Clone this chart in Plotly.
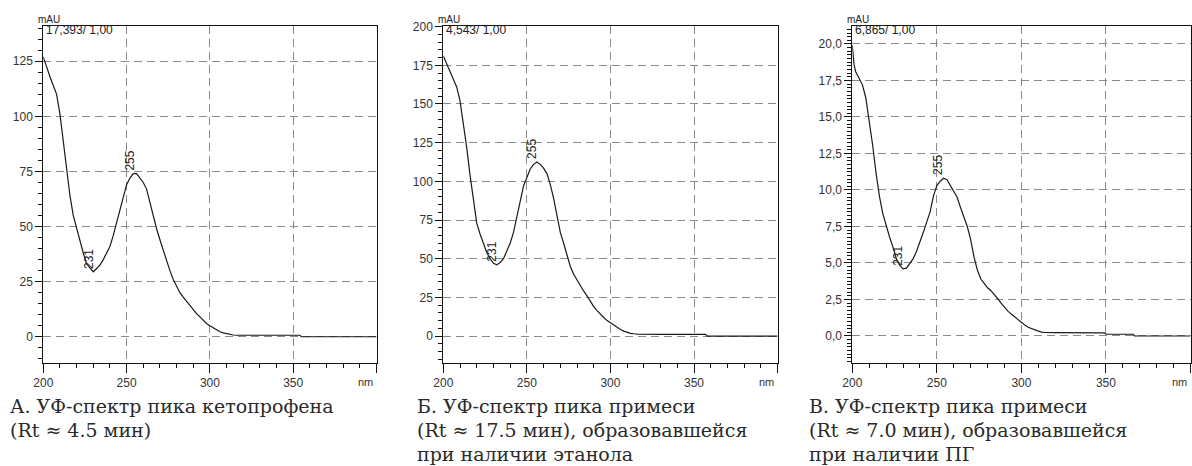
import plotly.graph_objects as go

W, H = 1192, 466

# ---------------- data ----------------
nm_a = [200, 202, 204, 206, 208, 210, 212, 214, 216, 218, 220, 222, 224, 226, 228, 230,
        232, 234, 236, 238, 240, 242, 244, 246, 248, 250, 252, 254, 256, 258, 260, 262,
        264, 266, 268, 270, 272, 274, 276, 278, 280, 282, 284, 286, 288, 290, 292, 294,
        296, 298, 300, 302, 304, 306, 308, 310, 312, 314, 316, 330, 345, 354, 355, 370, 400]
mau_a = [127, 122, 118, 114, 110, 101, 89, 77, 64, 55, 49, 44, 38, 33, 31, 29.5,
         31, 32.5, 35, 38, 41, 46, 52, 58, 64, 69, 72, 74, 74, 72, 70, 67,
         61, 54, 49, 44, 39, 34, 30, 26, 23, 20, 18, 16, 14, 12, 10.5, 9,
         7.5, 6, 5, 4, 3, 2.3, 1.8, 1.4, 1.1, 0.8, 0.7, 0.7, 0.7, 0.7, 0.0, 0.0, 0.0]

nm_b = [200, 202, 204, 206, 208, 210, 212, 214, 216, 218, 220, 222, 224, 226, 228, 230,
        232, 234, 236, 238, 240, 242, 244, 246, 248, 250, 252, 254, 256, 258, 260, 262,
        264, 266, 268, 270, 272, 274, 276, 278, 280, 282, 284, 286, 288, 290, 292, 294,
        296, 298, 300, 302, 304, 306, 308, 310, 312, 314, 316, 330, 345, 357, 358, 380, 400]
mau_b = [181, 176, 170, 165, 161, 152, 138, 122, 104, 88, 73, 66, 60, 54, 50, 47,
         46, 47.5, 50, 55, 60, 67, 76, 87, 97, 103, 108, 111, 112.5, 111, 108.5, 105,
         98, 89, 78, 67, 60, 52, 45, 40, 36, 32, 29, 26, 22, 19, 16.5, 14,
         12, 10, 8.5, 7, 5.5, 4.2, 3.2, 2.3, 1.8, 1.5, 1.3, 1.1, 1.1, 1.1, 0.0, 0.0, 0.0]

nm_c = [200, 201, 202, 204, 206, 208, 210, 212, 214, 216, 218, 220, 222, 224, 226, 228,
        230, 232, 234, 236, 238, 240, 242, 244, 246, 248, 250, 252, 254, 256, 258, 260,
        262, 264, 266, 268, 270, 272, 274, 276, 278, 280, 282, 284, 286, 288, 290, 292,
        294, 296, 298, 300, 302, 304, 306, 308, 310, 312, 314, 320, 335, 349, 350, 360,
        366, 367, 400]
mau_c = [19.9, 18.6, 18.1, 17.7, 17.2, 16.3, 14.8, 13.1, 11.2, 9.6, 8.4, 7.5, 6.8, 6.1, 5.3, 4.85,
         4.6, 4.65, 4.95, 5.3, 5.8, 6.4, 7.1, 7.8, 8.5, 9.6, 10.3, 10.6, 10.8, 10.7, 10.3, 10.0,
         9.5, 8.8, 8.2, 7.5, 6.6, 5.4, 4.5, 3.9, 3.6, 3.3, 3.1, 2.85, 2.55, 2.25, 1.95, 1.7,
         1.5, 1.3, 1.1, 0.9, 0.75, 0.6, 0.5, 0.4, 0.33, 0.27, 0.24, 0.23, 0.23, 0.22, 0.12, 0.12,
         0.12, 0.0, 0.0]

x_tickvals = [200, 250, 300, 350, 400]
x_ticktext = ["200", "250", "300", "350", ""]
x_unit = "nm"
y_unit = "mAU"

y_ranges = [[-11.9, 141.0], [-17.4, 200.4], [-1.85, 21.23]]
y_dtick = [25, 25, 2.5]
y_minor = [5, 5, 0.25]
x_minor = 10
y_format = ["d", "d", ".1f"]

header_texts = ["17,393/ 1,00", "4,543/ 1,00", "6,865/ 1,00"]
peak_max_nm = [255, 256, 254]
peak_max_val = [74, 112.5, 10.8]
peak_max_lbl = ["255", "255", "255"]
peak_min_nm = [230, 232, 230]
peak_min_val = [29.5, 46, 4.6]
peak_min_lbl = ["231", "231", "231"]

captions = [
    ["А. УФ-спектр пика кетопрофена", "(Rt ≈ 4.5 мин)"],
    ["Б. УФ-спектр пика примеси", "(Rt ≈ 17.5 мин), образовавшейся", "при наличии этанола"],
    ["В. УФ-спектр пика примеси", "(Rt ≈ 7.0 мин), образовавшейся", "при наличии ПГ"],
]

# ---------------- layout geometry (pixels) ----------------
x_px = [(43.3, 376.5), (443.3, 777.6), (852.3, 1190.5)]
y_top, y_bot = 26, 363
caption_x = [8, 415, 807]
caption_base = [413, 437, 461]

series = [(nm_a, mau_a), (nm_b, mau_b), (nm_c, mau_c)]

fig = go.Figure()
sans = "Liberation Sans, Arial, sans-serif"
tick_font = dict(family=sans, size=12, color="#333333")
ann = []
layout = {}
for i in range(3):
    sfx = "" if i == 0 else str(i + 1)
    msfx = str(i + 4)
    xa, ya = "x" + sfx, "y" + sfx
    nm, v = series[i]
    fig.add_trace(go.Scatter(x=nm, y=v, mode="lines", xaxis=xa, yaxis=ya,
                             line=dict(color="#1a1a1a", width=1.2), showlegend=False,
                             hoverinfo="skip"))
    xdom = [x_px[i][0] / W, x_px[i][1] / W]
    ydom = [1 - y_bot / H, 1 - y_top / H]
    layout["xaxis" + sfx] = dict(
        domain=xdom, anchor=ya, range=[200, 400],
        tickmode="array", tickvals=x_tickvals, ticktext=x_ticktext,
        ticks="outside", ticklen=9, tickcolor="#111", tickwidth=1,
        showline=True, linecolor="#111", linewidth=1, mirror=True,
        showgrid=True, gridcolor="#8a8a8a", gridwidth=1, griddash="8px,5px",
        zeroline=False, tickfont=tick_font, fixedrange=True, automargin=False)
    layout["yaxis" + sfx] = dict(
        domain=ydom, anchor=xa, range=y_ranges[i],
        tickmode="linear", dtick=y_dtick[i], tick0=0, tickformat=y_format[i],
        ticks="outside", ticklen=7, tickcolor="#111", tickwidth=1,
        showline=True, linecolor="#111", linewidth=1, mirror=True,
        showgrid=True, gridcolor="#8a8a8a", gridwidth=1, griddash="8px,5px",
        zeroline=False, tickfont=tick_font, fixedrange=True, automargin=False)
    # overlay axes carrying the minor ticks
    layout["xaxis" + msfx] = dict(
        domain=xdom, anchor=ya, overlaying=xa, side="bottom", range=[200, 400],
        tickmode="linear", tick0=200, dtick=x_minor, ticks="outside", ticklen=4,
        tickcolor="#111", tickwidth=1, showticklabels=False, showgrid=False,
        showline=False, zeroline=False, fixedrange=True, automargin=False)
    layout["yaxis" + msfx] = dict(
        domain=ydom, anchor=xa, overlaying=ya, side="left", range=y_ranges[i],
        tickmode="linear", tick0=0, dtick=y_minor[i], ticks="outside", ticklen=4,
        tickcolor="#111", tickwidth=1, showticklabels=False, showgrid=False,
        showline=False, zeroline=False, fixedrange=True, automargin=False)
    # invisible trace so the overlay axes are drawn
    fig.add_trace(go.Scatter(x=[200], y=[0], mode="markers", xaxis="x" + msfx, yaxis="y" + msfx,
                             marker=dict(opacity=0), showlegend=False, hoverinfo="skip"))
    ann.append(dict(xref="paper", yref="paper", x=(x_px[i][0] - 7) / W, y=1 - 19 / H,
                    xanchor="left", yanchor="middle", text=y_unit, showarrow=False,
                    font=dict(family=sans, size=10, color="#222")))
    ann.append(dict(xref=xa, yref="paper", x=400, y=1 - 382 / H, xshift=-2,
                    xanchor="right", yanchor="middle", text=x_unit, showarrow=False,
                    font=dict(family=sans, size=11, color="#333")))
    ann.append(dict(xref="paper", yref="paper", x=(x_px[i][0] + 1) / W, y=1 - 30 / H,
                    xanchor="left", yanchor="middle", text=header_texts[i], showarrow=False,
                    font=dict(family=sans, size=12, color="#222")))
    ann.append(dict(xref=xa, yref=ya, x=peak_max_nm[i], y=peak_max_val[i], text=peak_max_lbl[i],
                    showarrow=False, textangle=-90, xanchor="center", yanchor="bottom", xshift=-5,
                    yshift=1, font=dict(family=sans, size=12, color="#222")))
    ann.append(dict(xref=xa, yref=ya, x=peak_min_nm[i], y=peak_min_val[i], text=peak_min_lbl[i],
                    showarrow=False, textangle=-90, xanchor="center", yanchor="bottom", xshift=-5,
                    yshift=1, font=dict(family=sans, size=12, color="#222")))
    for j, line in enumerate(captions[i]):
        ann.append(dict(xref="paper", yref="paper", x=caption_x[i] / W,
                        y=1 - (caption_base[j] - 7) / H, xanchor="left", yanchor="middle",
                        text=line, showarrow=False,
                        font=dict(family="DejaVu Serif, serif", size=19, color="#2a2a2a")))

fig.update_layout(**layout)
fig.update_layout(width=W, height=H, margin=dict(l=0, r=0, t=0, b=0, autoexpand=False),
                  paper_bgcolor="white", plot_bgcolor="white", separators=", ",
                  annotations=ann, showlegend=False)
fig.write_html("out.html", config={"displayModeBar": False})
